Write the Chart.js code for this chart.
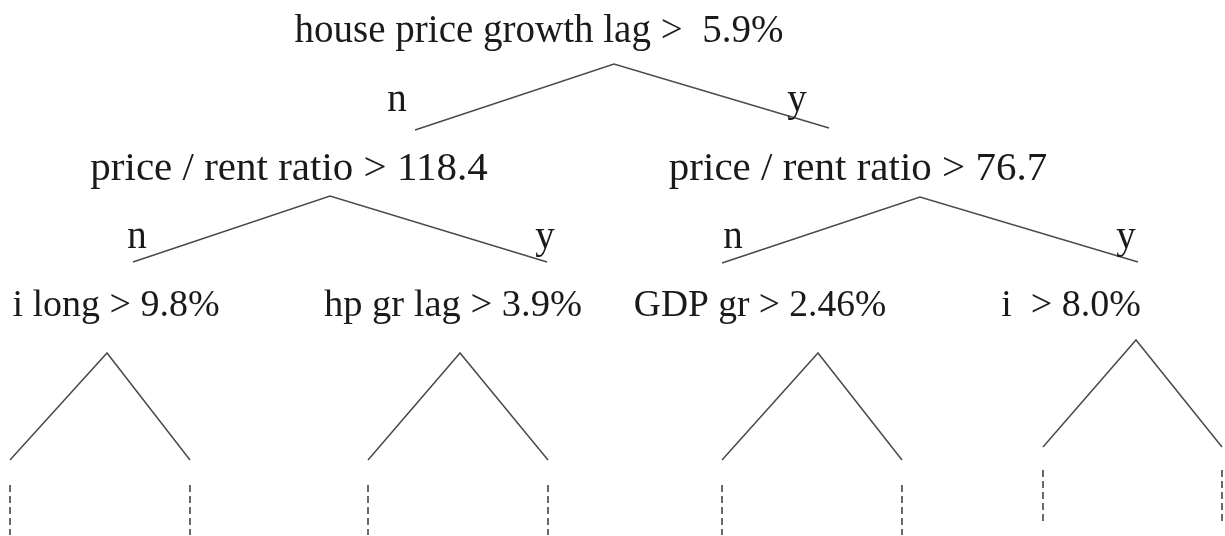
<!DOCTYPE html>
<html>
<head>
<meta charset="utf-8">
<script src="https://cdn.jsdelivr.net/npm/chart.js@4/dist/chart.umd.min.js"></script>
<style>
  html, body { margin: 0; padding: 0; background: #fff; }
  #wrap { width: 1225px; height: 536px; }
</style>
</head>
<body>
<div id="wrap"><canvas id="tree" width="1225" height="536"></canvas></div>
<script>
// split rules shown at each node (text, centre x, baseline y, font size)
const nodeLabels = [
  "house price growth lag >  5.9%",
  "price / rent ratio > 118.4",
  "price / rent ratio > 76.7",
  "i long > 9.8%",
  "hp gr lag > 3.9%",
  "GDP gr > 2.46%",
  "i  > 8.0%"
];
const nodeX = [539, 289, 858, 116, 453, 760, 1071];
const nodeY = [42, 180, 180, 316, 316, 316, 316];
const nodeSize = [39, 41, 41, 38, 38.5, 37.5, 38];

// branch answers
const branchLabels = ["n", "y", "n", "y", "n", "y"];
const branchX = [397, 797, 137, 545, 733, 1126];
const branchY = [111, 111, 248, 248, 248, 248];

// split edges: left end, apex, right end
const splitEdges = [
  [[415, 130], [614, 64], [829, 128]],
  [[133, 262], [330, 196], [547, 262]],
  [[722, 263], [920, 197], [1138, 262]],
  [[10, 460], [107, 353], [190, 460]],
  [[368, 460], [460, 353], [548, 460]],
  [[722, 460], [818, 353], [902, 460]],
  [[1043, 447], [1136, 340], [1222, 447]]
];

// dashed continuation stubs: x, top, bottom
const stubX = [10, 190, 368, 548, 722, 902, 1043, 1222];
const stubTop = [485, 485, 485, 485, 485, 485, 470, 470];
const stubBottom = [535, 535, 535, 535, 535, 535, 522, 522];

const lineColor = "#4a4a4a";
const textColor = "#1a1a1a";
const fontFamily = "'Liberation Serif', 'DejaVu Serif', serif";

const datasets = [];
splitEdges.forEach(e => {
  datasets.push({
    data: e.map(p => ({ x: p[0], y: p[1] })),
    showLine: true,
    borderColor: lineColor,
    borderWidth: 1.5,
    pointRadius: 0,
    tension: 0
  });
});
stubX.forEach((x, i) => {
  datasets.push({
    data: [{ x: x, y: stubTop[i] }, { x: x, y: stubBottom[i] }],
    showLine: true,
    borderColor: "#1a1a1a",
    borderWidth: 1.3,
    borderDash: [7, 4],
    pointRadius: 0
  });
});

const treeText = {
  id: "treeText",
  afterDatasetsDraw(chart) {
    const ctx = chart.ctx;
    const xs = chart.scales.x, ys = chart.scales.y;
    ctx.save();
    ctx.fillStyle = textColor;
    ctx.textAlign = "center";
    ctx.textBaseline = "alphabetic";
    nodeLabels.forEach((t, i) => {
      ctx.font = nodeSize[i] + "px " + fontFamily;
      ctx.fillText(t, xs.getPixelForValue(nodeX[i]), ys.getPixelForValue(nodeY[i]));
    });
    ctx.font = "39px " + fontFamily;
    branchLabels.forEach((t, i) => {
      ctx.fillText(t, xs.getPixelForValue(branchX[i]), ys.getPixelForValue(branchY[i]));
    });
    ctx.restore();
  }
};

new Chart(document.getElementById("tree"), {
  type: "scatter",
  data: { datasets: datasets },
  options: {
    responsive: false,
    animation: false,
    layout: { padding: 0 },
    plugins: { legend: { display: false }, tooltip: { enabled: false } },
    scales: {
      x: { type: "linear", min: 0, max: 1225, display: false },
      y: { type: "linear", min: 0, max: 536, reverse: true, display: false }
    }
  },
  plugins: [treeText]
});
</script>
</body>
</html>
